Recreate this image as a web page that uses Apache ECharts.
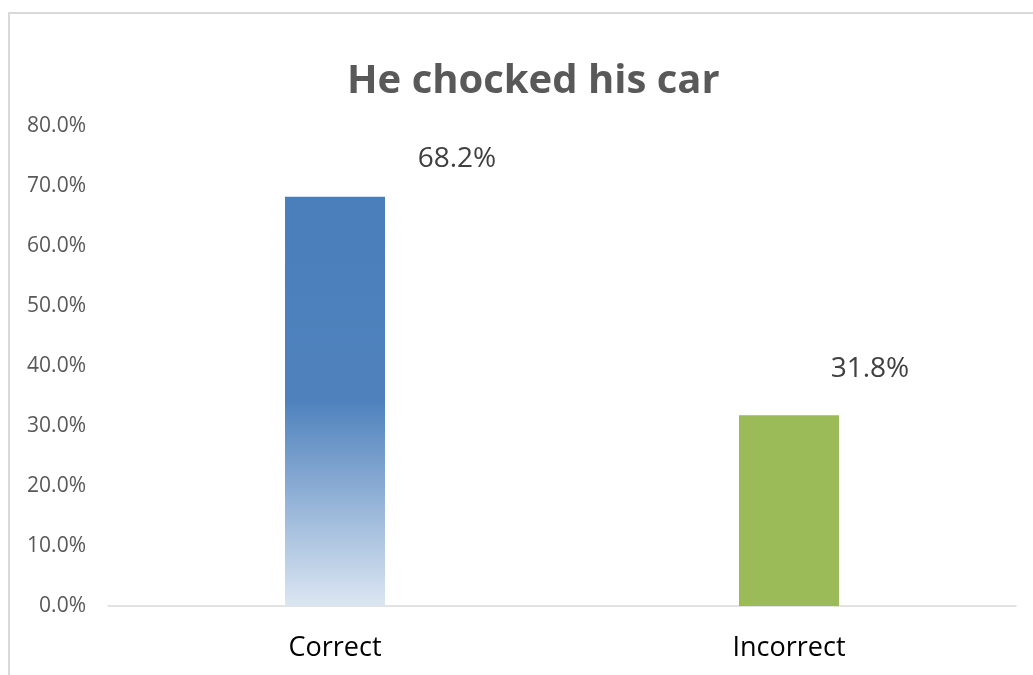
<!DOCTYPE html>
<html><head><meta charset="utf-8">
<script src="https://cdn.jsdelivr.net/npm/echarts@6/dist/echarts.min.js"></script>
<style>
html,body{margin:0;padding:0;background:#fff;}
#frame{position:absolute;left:8px;top:12px;width:1100px;height:700px;border:2px solid #d9d9d9;box-sizing:border-box;}
#main{position:absolute;left:0;top:0;width:1033px;height:675px;}
</style></head>
<body>
<div id="frame"></div>
<div id="main"></div>
<script>
const titleText = 'He chocked his car';
const categories = ['Correct', 'Incorrect'];
const values = [0.682, 0.318];
const yTicks = [0, 0.1, 0.2, 0.3, 0.4, 0.5, 0.6, 0.7, 0.8];

const labelOffsets = [[122, -24], [81, -32]];
const chart = echarts.init(document.getElementById('main'));
const font = '"Open Sans", sans-serif';
chart.setOption({
  animation: false,
  title: {
    text: titleText, left: 342, top: 57,
    textStyle: {fontFamily: font, fontSize: 40, fontWeight: 'bold', color: '#595959'}
  },
  grid: {left: 108, right: 17, top: 126, bottom: 69, containLabel: false},
  xAxis: {
    type: 'category', data: categories,
    axisLine: {lineStyle: {color: '#d9d9d9', width: 1.5}},
    axisTick: {show: false},
    axisLabel: {fontFamily: font, fontSize: 27, color: '#000', margin: 29}
  },
  yAxis: {
    type: 'value', min: yTicks[0], max: yTicks[yTicks.length - 1], interval: 0.1,
    splitLine: {show: false},
    axisLine: {show: false}, axisTick: {show: false},
    axisLabel: {fontFamily: font, fontSize: 21, color: '#595959', margin: 22,
      formatter: v => (v * 100).toFixed(1) + '%'}
  },
  series: [{
    type: 'bar', barWidth: 100,
    data: values.map((v, i) => ({
      value: v,
      label: {offset: labelOffsets[i]},
      itemStyle: {
        color: i === 0 ? new echarts.graphic.LinearGradient(0, 0, 0, 1, [
          {offset: 0, color: '#4a7ebb'},
          {offset: 0.5, color: '#4f82bd'},
          {offset: 1, color: '#dce6f2'}
        ]) : '#9bbb59'
      }
    })),
    label: {
      show: true, position: 'top', distance: 0,
      fontFamily: font, fontSize: 28, color: '#404040',
      formatter: p => (p.value * 100).toFixed(1) + '%'
    }
  }]
});
</script>
</body></html>
